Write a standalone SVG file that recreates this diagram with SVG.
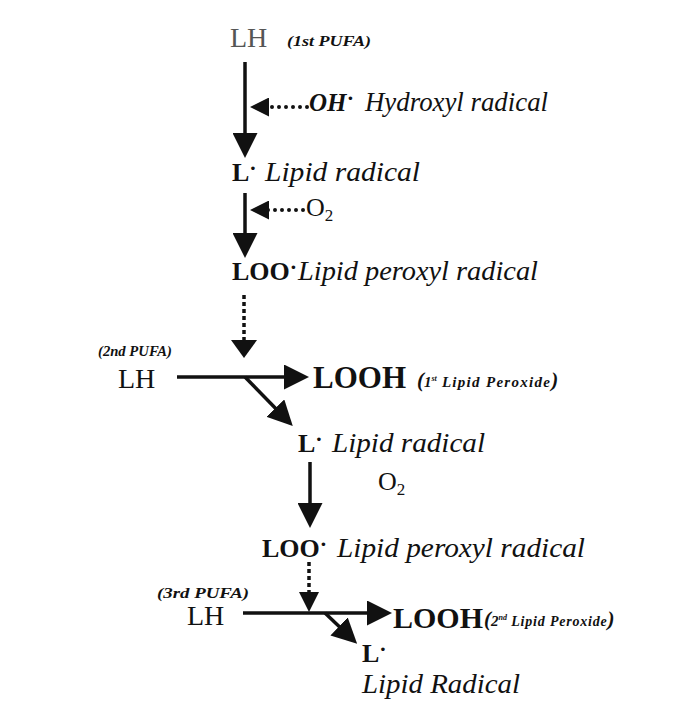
<svg xmlns="http://www.w3.org/2000/svg" width="678" height="723" viewBox="0 0 678 723">
  <style>
    text { font-family: "Liberation Serif", "Times New Roman", serif; fill: #111; }
    .chem { font-size: 28px; }
    .bold { font-size: 26px; font-weight: bold; }
    .name { font-size: 28px; font-style: italic; }
    .tag { font-size: 14px; font-style: italic; font-weight: bold; }
    .peroxide { font-style: italic; font-weight: bold; }
    .rad { font-size: 22px; }
    .line { fill: none; stroke: #111; stroke-width: 3.5; }
    .dots { fill: none; stroke: #111; stroke-width: 4; stroke-linecap: round; stroke-dasharray: 0 7; }
    .dash { fill: none; stroke: #111; stroke-width: 3.5; stroke-dasharray: 4 3; }
  </style>
  <defs>
    <marker id="head" markerUnits="userSpaceOnUse" markerWidth="25" markerHeight="25" refX="11" refY="12.5" orient="auto">
      <path d="M0,0 L25,12.5 L0,25 z" fill="#111"/>
    </marker>
    <marker id="head-side" markerUnits="userSpaceOnUse" markerWidth="19" markerHeight="19" refX="7" refY="9.5" orient="auto">
      <path d="M0,0 L19,9.5 L0,19 z" fill="#111"/>
    </marker>
    <marker id="head-dash" markerUnits="userSpaceOnUse" markerWidth="18" markerHeight="26" refX="4" refY="13" orient="auto">
      <path d="M0,0 L18,13 L0,26 z" fill="#111"/>
    </marker>
    <marker id="head-dash-sm" markerUnits="userSpaceOnUse" markerWidth="20" markerHeight="20" refX="6" refY="10" orient="auto">
      <path d="M0,0 L20,10 L0,20 z" fill="#111"/>
    </marker>
  </defs>

  <rect width="678" height="723" fill="#fff"/>

  <!-- connectors -->
  <g id="connectors">
    <path class="line" d="M245,62 V144" marker-end="url(#head)"/>
    <path class="dots" d="M307,107 H262" marker-end="url(#head-side)"/>
    <path class="line" d="M245,193 V244" marker-end="url(#head)"/>
    <path class="dots" d="M303,210 H262" marker-end="url(#head-side)"/>
    <path class="dash" d="M244,295 V344" marker-end="url(#head-dash)"/>
    <path class="line" d="M177,377 H295" marker-end="url(#head)"/>
    <path class="line" d="M245,377 L283,416" marker-end="url(#head)"/>
    <path class="line" d="M310,462 V514" marker-end="url(#head)"/>
    <path class="dash" d="M309,562 V598" marker-end="url(#head-dash-sm)"/>
    <path class="line" d="M243,613 H378" marker-end="url(#head)"/>
    <path class="line" d="M325,613 L347,634" marker-end="url(#head)"/>
  </g>

  <!-- first PUFA -->
  <g id="lh1">
    <text class="chem" x="230" y="47" style="fill:#555">LH</text>
    <text class="tag" x="287" y="46" textLength="84" lengthAdjust="spacingAndGlyphs">(1st PUFA)</text>
  </g>

  <g id="hydroxyl">
    <text class="name" x="309" y="111" style="font-size:25px;font-weight:bold">OH<tspan class="rad" dx="1" dy="-6">·</tspan></text>
    <text class="name" x="365" y="111" textLength="183" lengthAdjust="spacingAndGlyphs">Hydroxyl radical</text>
  </g>

  <g id="lipid-radical-1">
    <text class="bold" x="232" y="181">L<tspan class="rad" dy="-6">·</tspan></text>
    <text class="name" x="265" y="181" textLength="155" lengthAdjust="spacingAndGlyphs">Lipid radical</text>
  </g>

  <g id="oxygen-1">
    <text class="chem" x="306" y="216" style="font-size:26px">O<tspan dy="5" style="font-size:17px">2</tspan></text>
  </g>

  <g id="peroxyl-1">
    <text class="bold" x="232" y="280">LOO<tspan class="rad" dy="-6">·</tspan></text>
    <text class="name" x="298" y="280" textLength="240" lengthAdjust="spacingAndGlyphs">Lipid peroxyl radical</text>
  </g>

  <!-- second PUFA -->
  <g id="lh2">
    <text class="tag" x="98" y="356" textLength="74" lengthAdjust="spacingAndGlyphs">(2nd PUFA)</text>
    <text class="chem" x="118" y="388">LH</text>
  </g>

  <g id="looh-1">
    <text class="bold" x="313" y="388" style="font-size:31px">LOOH</text>
    <text class="peroxide" x="417" y="387"><tspan style="font-size:21px">(</tspan><tspan style="font-size:15px">1</tspan><tspan dy="-6" style="font-size:8px">st</tspan><tspan dy="6" style="font-size:15px" letter-spacing="1.3"> Lipid Peroxide</tspan><tspan style="font-size:21px">)</tspan></text>
  </g>

  <g id="lipid-radical-2">
    <text class="bold" x="298" y="452">L<tspan class="rad" dy="-6">·</tspan></text>
    <text class="name" x="332" y="452" textLength="153" lengthAdjust="spacingAndGlyphs">Lipid radical</text>
  </g>

  <g id="oxygen-2">
    <text class="chem" x="378" y="490" style="font-size:26px">O<tspan dy="5" style="font-size:17px">2</tspan></text>
  </g>

  <g id="peroxyl-2">
    <text class="bold" x="262" y="557">LOO<tspan class="rad" dy="-6">·</tspan></text>
    <text class="name" x="337" y="557" textLength="248" lengthAdjust="spacingAndGlyphs">Lipid peroxyl radical</text>
  </g>

  <!-- third PUFA -->
  <g id="lh3">
    <text class="tag" x="157" y="598" textLength="92" lengthAdjust="spacingAndGlyphs">(3rd PUFA)</text>
    <text class="chem" x="187" y="625">LH</text>
  </g>

  <g id="looh-2">
    <text class="bold" x="393" y="628" style="font-size:30px">LOOH</text>
    <text class="peroxide" x="484" y="626"><tspan style="font-size:21px">(</tspan><tspan style="font-size:15px">2</tspan><tspan dy="-6" style="font-size:8px">nd</tspan><tspan dy="6" style="font-size:14px" letter-spacing="0.8"> Lipid Peroxide</tspan><tspan style="font-size:21px">)</tspan></text>
  </g>

  <g id="lipid-radical-3">
    <text class="bold" x="362" y="662">L<tspan class="rad" dy="-6">·</tspan></text>
    <text class="name" x="362" y="693" textLength="158" lengthAdjust="spacingAndGlyphs">Lipid Radical</text>
  </g>
</svg>
